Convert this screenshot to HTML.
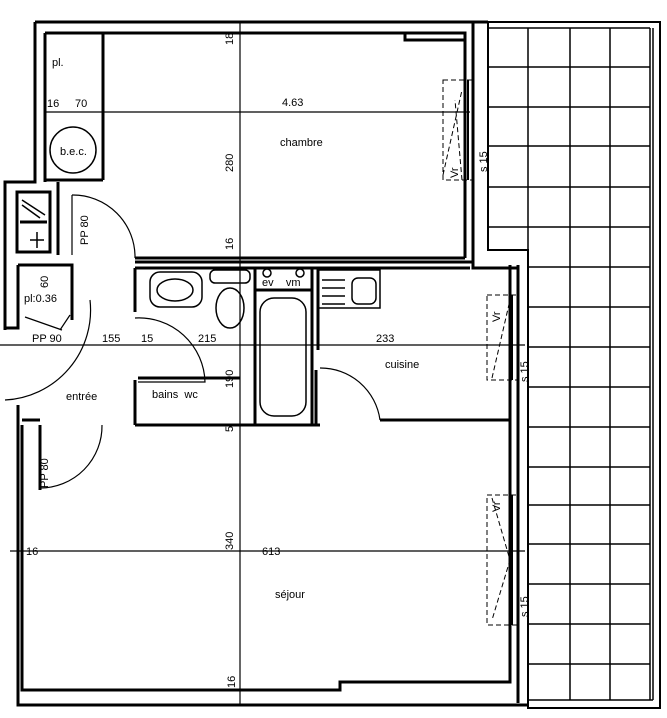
<!DOCTYPE html>
<html><head><meta charset="utf-8"><style>
html,body{margin:0;padding:0;background:#fff}
svg{display:block}
text{font-family:"Liberation Sans",sans-serif;font-size:11px;fill:#000}
</style></head><body>
<svg width="667" height="718" viewBox="0 0 667 718" xmlns="http://www.w3.org/2000/svg">
<g fill="none" stroke="#000">
<g stroke-width="2">
<path d="M488 22 H660 V708 H528 V250 H488 Z"/>
</g>
<path d="M653 28 V700 M528 700 H653" stroke-width="1.5"/>
<g stroke-width="1.5">
<path d="M528 28 V700 M570 28 V700 M610 28 V700 M650 28 V700"/>
<path d="M488 28 H650 M488 67 H650 M488 107 H650 M488 146 H650 M488 187 H650 M488 227 H650 M528 267 H650 M528 307 H650 M528 347 H650 M528 387 H650 M528 427 H650 M528 467 H650 M528 505 H650 M528 544 H650 M528 584 H650 M528 624 H650 M528 664 H650"/>
</g>
<g stroke-width="3">
<path d="M35 22 H488 M35 22 V182 H5 V330"/>
<path d="M45 33 H465 V258 M45 33 V182"/>
<path d="M473 22 V262 M465 258 H135 M135 262 H473"/>
<path d="M405 33 V40 H465"/>
<path d="M18 405 V705 H528 M22 425 V690 H340 V682 H510 V265"/>
<path d="M518 265 V703 M473 262 V268 H518 M135 268 H470"/>
<path d="M135 268 V312 M135 380 V425 M135 425 H320 M380 420 H510"/>
<path d="M103 33 V180 M45 180 H103 M58 182 V255"/>
<path d="M312 268 V425 M318 268 V350 M312 290 H255 M255 268 V425"/>
<path d="M316 370 V425"/>
<path d="M138 378 H240"/>
<path d="M17 192 H50 V252 H17 Z M20 222 H47"/>
<path d="M18 265 H72 V320 M18 265 V328 H5"/>
<path d="M40 420 H22 M40 425 V490"/>
</g>
<g stroke-width="1.2">
<path d="M72 195 V255"/>
<path d="M72 195 A62 62 0 0 1 135 258"/>
<path d="M135 318 A66 66 0 0 1 205 382 H138"/>
<path d="M320 368 A60 60 0 0 1 380 420"/>
<path d="M90 300 A90 90 0 0 1 5 400"/>
<path d="M40 488 A62 62 0 0 0 102 425"/>
<path d="M25 317 L62 330 M70 315 L60 330"/>
</g>
<g stroke-width="1.5">
<rect x="150" y="272" width="52" height="35" rx="10"/>
<ellipse cx="175" cy="290" rx="18" ry="11"/>
<rect x="210" y="270" width="40" height="13" rx="5"/>
<ellipse cx="230" cy="308" rx="14" ry="20"/>
<rect x="260" y="298" width="46" height="118" rx="14"/>
<circle cx="267" cy="273" r="4"/><circle cx="300" cy="273" r="4"/>
<rect x="318" y="270" width="62" height="38"/>
<rect x="352" y="278" width="24" height="26" rx="6"/>
<path d="M322 280 H345 M322 288 H345 M322 296 H345 M322 304 H345"/>
<circle cx="73" cy="150" r="23"/>
<path d="M22 200 L45 215 M22 205 L40 218 M30 240 H44 M37 232 V248"/>
</g>
<g stroke-width="1" stroke-dasharray="5 3">
<rect x="443" y="80" width="30" height="100"/>
<rect x="487" y="295" width="30" height="85"/>
<rect x="487" y="495" width="30" height="130"/>
<path d="M443 175 L462 90 M462 180 L455 100 M492 378 L510 300 M492 498 L510 560 L492 620"/>
</g>
<g stroke-width="2"><path d="M468 80 V180 M512 295 V380 M512 495 V625"/></g>
<g stroke-width="1.2">
<path d="M240 22 V705"/>
<path d="M45 112 H470"/>
<path d="M0 345 H525"/>
<path d="M10 551 H525"/>
</g>
</g>
<g>
<text x="52" y="66">pl.</text>
<text x="60" y="155" font-size="10">b.e.c.</text>
<text x="47" y="107">16</text><text x="75" y="107">70</text>
<text x="282" y="106">4.63</text>
<text x="280" y="146">chambre</text>
<text x="385" y="368">cuisine</text>
<text x="66" y="400">entrée</text>
<text x="152" y="398">bains&#160; wc</text>
<text x="275" y="598">séjour</text>
<text x="24" y="302" font-size="10">pl:0.36</text>
<text x="32" y="342" font-size="10">PP 90</text>
<text x="102" y="342">155</text>
<text x="141" y="342" font-size="10">15</text>
<text x="198" y="342">215</text>
<text x="376" y="342">233</text>
<text x="262" y="286" font-size="10">ev&#160;&#160;&#160; vm</text>
<text x="262" y="555">613</text>
<text x="26" y="555" font-size="10">16</text>
<g font-size="11">
<text transform="translate(233,45) rotate(-90)">18</text>
<text transform="translate(233,172) rotate(-90)">280</text>
<text transform="translate(233,250) rotate(-90)">16</text>
<text transform="translate(233,388) rotate(-90)">190</text>
<text transform="translate(233,432) rotate(-90)">5</text>
<text transform="translate(233,550) rotate(-90)">340</text>
<text transform="translate(235,688) rotate(-90)">16</text>
<text transform="translate(88,245) rotate(-90)" font-size="10">PP 80</text>
<text transform="translate(48,488) rotate(-90)" font-size="9">PP 80</text>
<text transform="translate(48,288) rotate(-90)" font-size="10">60</text>
<text transform="translate(487,172) rotate(-90)" font-size="10">s 15</text>
<text transform="translate(528,382) rotate(-90)" font-size="10">s 15</text>
<text transform="translate(528,617) rotate(-90)" font-size="10">s 15</text>
<text transform="translate(458,178) rotate(-90)" font-size="10">Vr</text>
<text transform="translate(500,322) rotate(-90)" font-size="10">Vr</text>
<text transform="translate(500,512) rotate(-90)" font-size="10">Vr</text>
</g>
</g>
</svg>
</body></html>
